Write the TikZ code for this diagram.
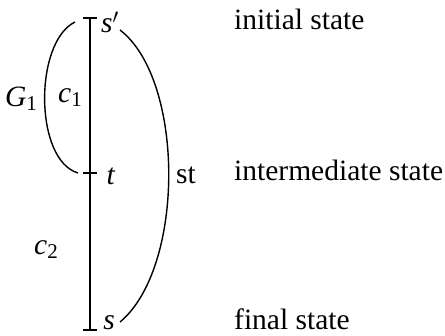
\documentclass[tikz,border=0pt]{standalone}
\usepackage{fontspec}
\setmainfont{Liberation Serif}
\usetikzlibrary{positioning}
\newcommand{\lowidx}[1]{\raisebox{-0.3ex}{\fontsize{21}{24}\selectfont #1}}
\begin{document}
\begin{tikzpicture}[x=1pt,y=-1pt,font=\fontsize{29.5}{34}\selectfont,
	lbl/.style={inner sep=0pt},
	statelbl/.style={inner sep=0pt,anchor=base west},
	tick/.style={line width=1.6pt}]
	\useasboundingbox (0,0) rectangle (445,336);
	% chain of states
	\coordinate (top) at (90,18);
	\coordinate (mid) at (90,173);
	\coordinate (bot) at (90,330);
	\draw[tick] (top) -- (bot);
	\draw[tick] ([xshift=-7pt]top) -- ([xshift=7pt]top);
	\draw[tick] ([xshift=-7pt]mid) -- ([xshift=7pt]mid);
	\draw[tick] ([xshift=-7pt]bot) -- ([xshift=7pt]bot);
	\node[lbl] (sp) at (110,22) {\textit{s}$'$};
	\node[lbl] (t) at (111,176) {\textit{t}};
	\node[lbl] (s) at (109,323) {\textit{s}};
	\node[lbl] (c1) at (70,98) {\textit{c}\lowidx{1}};
	\node[lbl] (c2) at (46,250) {\textit{c}\lowidx{2}};
	\node[lbl] (G1) at (21,99) {\textit{G}\lowidx{1}};
	\node[lbl] (st) at (186,175) {st};
	% arcs
	\coordinate (gtop) at (75,22);
	\coordinate (gbot) at (78,173);
	\coordinate (rtop) at (120,30);
	\coordinate (rbot) at (120,322);
	\draw[line width=1.4pt] (gtop) .. controls (34,42) and (34,160) .. (gbot);
	\draw[line width=1.4pt] (rtop) .. controls (185,80) and (185,268) .. (rbot);
	% right hand labels
	\node[statelbl] (init) at (234,30) {initial state};
	\node[statelbl] (inter) at (234,181) {intermediate state};
	\node[statelbl] (final) at (234,330) {final state};
\end{tikzpicture}
\end{document}
